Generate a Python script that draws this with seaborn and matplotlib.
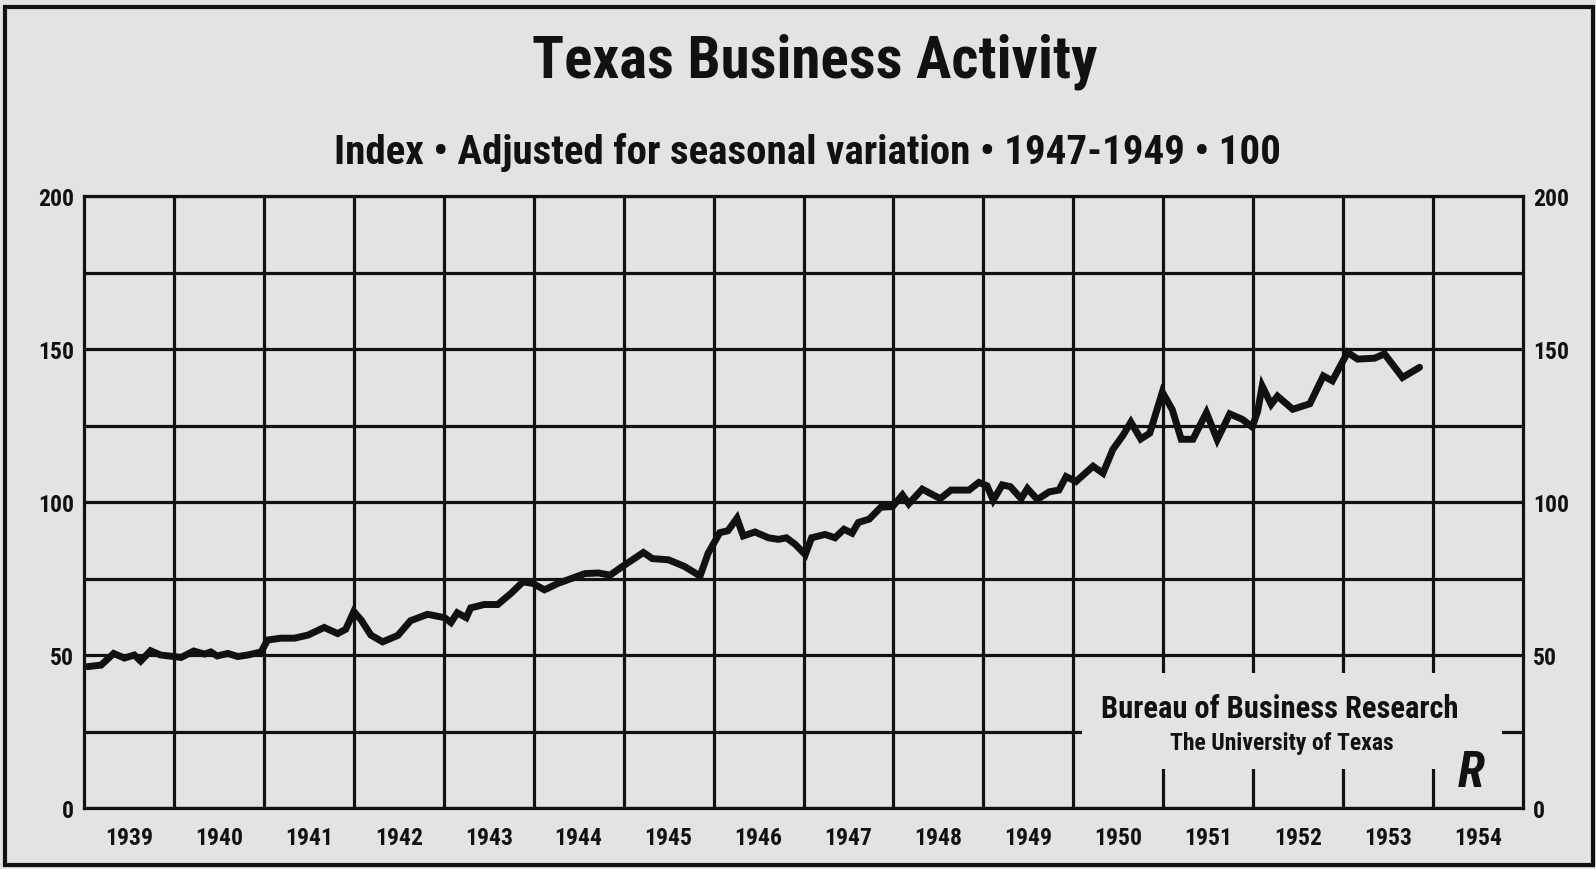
import numpy as np
import pandas as pd
import matplotlib
matplotlib.use("Agg")
import matplotlib.pyplot as plt
from matplotlib import font_manager
from matplotlib.patches import Rectangle
import seaborn as sns

# Data (decimal year, index value)
dates = [
    1939.04, 1939.19, 1939.33, 1939.45, 1939.56, 1939.63, 1939.74, 1939.85,
    1940.00, 1940.08, 1940.22, 1940.34, 1940.41, 1940.48, 1940.60, 1940.71, 1940.82, 1940.97,
    1941.04, 1941.19, 1941.34, 1941.49, 1941.67, 1941.82, 1941.91,
    1942.00, 1942.08, 1942.19, 1942.32, 1942.49, 1942.63, 1942.82,
    1943.01, 1943.08, 1943.15, 1943.25, 1943.30, 1943.45, 1943.60, 1943.75, 1943.88, 1943.99,
    1944.12, 1944.27, 1944.42, 1944.57, 1944.72, 1944.85, 1944.98,
    1945.22, 1945.32, 1945.50, 1945.68, 1945.85, 1945.94,
    1946.07, 1946.16, 1946.26, 1946.33, 1946.46, 1946.61, 1946.72, 1946.81, 1946.91,
    1947.02, 1947.09, 1947.24, 1947.35, 1947.45, 1947.54, 1947.61, 1947.73, 1947.86, 1947.99,
    1948.10, 1948.17, 1948.32, 1948.52, 1948.64, 1948.84, 1948.95,
    1949.04, 1949.11, 1949.21, 1949.30, 1949.42, 1949.49, 1949.60, 1949.73, 1949.84, 1949.92,
    1950.03, 1950.22, 1950.33, 1950.44, 1950.55, 1950.64, 1950.75, 1950.85, 1950.99,
    1951.10, 1951.20, 1951.33, 1951.48, 1951.60, 1951.74, 1951.88, 1951.99,
    1952.05, 1952.10, 1952.20, 1952.27, 1952.44, 1952.63, 1952.78, 1952.88,
    1953.05, 1953.16, 1953.35, 1953.46, 1953.66, 1953.85,
]
index_values = [
    46.2, 46.7, 50.5, 49.0, 50.0, 48.0, 51.4, 50.0,
    49.5, 49.2, 51.3, 50.3, 51.0, 49.7, 50.5, 49.5, 50.0, 51.0,
    54.9, 55.5, 55.5, 56.5, 59.0, 57.0, 58.4,
    64.2, 61.5, 56.5, 54.3, 56.4, 61.2, 63.3,
    62.2, 60.6, 63.8, 62.2, 65.4, 66.5, 66.5, 70.2, 73.9, 73.4,
    71.3, 73.4, 75.0, 76.6, 76.8, 76.1, 78.8,
    83.5, 81.5, 81.1, 78.9, 75.8, 83.3,
    90.0, 90.6, 94.7, 88.9, 90.2, 88.3, 87.8, 88.3, 86.1,
    82.8, 88.3, 89.4, 88.3, 91.1, 89.8, 93.3, 94.4, 98.3, 98.5,
    102.3, 99.4, 104.2, 101.1, 103.9, 103.9, 106.4,
    105.3, 100.6, 105.6, 105.0, 101.1, 104.4, 100.8, 103.3, 103.9, 108.3,
    106.7, 111.7, 109.4, 117.2, 121.7, 126.1, 120.6, 122.5, 135.9,
    130.2, 120.5, 120.5, 129.2, 120.4, 128.8, 127.0, 124.5,
    129.7, 137.9, 131.9, 134.6, 130.3, 132.1, 141.2, 139.6,
    148.9, 146.7, 147.0, 148.4, 140.7, 144.0,
]
years = list(range(1939, 1955))
y_ticks = [0, 25, 50, 75, 100, 125, 150, 175, 200]
y_labels = ["0", "", "50", "", "100", "", "150", "", "200"]

title = "Texas Business Activity"
subtitle = "Index \u2022 Adjusted for seasonal variation \u2022 1947-1949 \u2022 100"
credit1 = "Bureau of Business Research"
credit2 = "The University of Texas"

df = pd.DataFrame({"year": dates, "index": index_values})

paper = "#e3e3e3"
ink = "#111111"

sns.set_theme(style="white")
names = {f.name for f in font_manager.fontManager.ttflist}
fam = [n for n in ["Roboto Condensed", "Roboto", "DejaVu Sans"] if n in names]
plt.rcParams["font.family"] = fam

fig = plt.figure(figsize=(15.96, 8.70), dpi=100, facecolor=paper)
ax = fig.add_axes([84 / 1596, 1 - 809 / 870, 1439 / 1596, 612 / 870])
ax.set_facecolor(paper)

sns.lineplot(data=df, x="year", y="index", ax=ax, color=ink, linewidth=5,
             zorder=5, solid_joinstyle="miter")

ax.set_xlim(1939, 1955)
ax.set_ylim(0, 200)
ax.set_xticks(years[1:])
ax.set_xticklabels([])
ax.set_xticks([y + 0.5 for y in years], minor=True)
ax.set_xticklabels([str(y) for y in years], minor=True)
ax.set_yticks(y_ticks)
ax.set_yticklabels(y_labels)
ax.tick_params(axis="both", which="both", length=0)
ax.tick_params(axis="x", which="minor", pad=13, labelsize=17)
ax.tick_params(axis="y", pad=7, labelright=True, right=False, labelsize=17)
ax.grid(True, which="major", color=ink, linewidth=2.3)
ax.set_axisbelow(True)
ax.set_xlabel("")
ax.set_ylabel("")
for s in ax.spines.values():
    s.set_color(ink)
    s.set_linewidth(2.3)

for t in ax.get_xticklabels(which="minor") + ax.get_yticklabels():
    t.set_fontweight("bold")
    t.set_color(ink)
for t in ax.yaxis.get_ticklabels(which="major"):
    t.set_fontweight("bold")

# panel behind the credit text, it hides the grid there
ax.add_patch(Rectangle((1950.10, 12.7), 4.67, 31.4, facecolor=paper,
                       edgecolor="none", zorder=3))

ax.text(1952.30, 32.6, credit1, ha="center", va="center", fontsize=22,
        fontweight="bold", color=ink, zorder=6)
ax.text(1952.32, 21.4, credit2, ha="center", va="center", fontsize=17,
        fontweight="bold", color=ink, zorder=6)
ax.text(1954.42, 11.5, "R", ha="center", va="center", fontsize=36,
        fontweight="bold", fontstyle="italic", color=ink, zorder=6)

fig.text(815 / 1596, 1 - 62 / 870, title, ha="center", va="center",
         fontsize=42.5, fontweight="bold", color=ink)
fig.text(807 / 1596, 1 - 152 / 870, subtitle, ha="center", va="center",
         fontsize=29.5, fontweight="bold", color=ink)

# outer frame of the clipping
fig.add_artist(Rectangle((5 / 1596, 4 / 870), 1588 / 1596, 858 / 870,
                         transform=fig.transFigure, fill=False,
                         edgecolor=ink, linewidth=3))

fig.savefig("out.png", dpi=100, facecolor=paper)
